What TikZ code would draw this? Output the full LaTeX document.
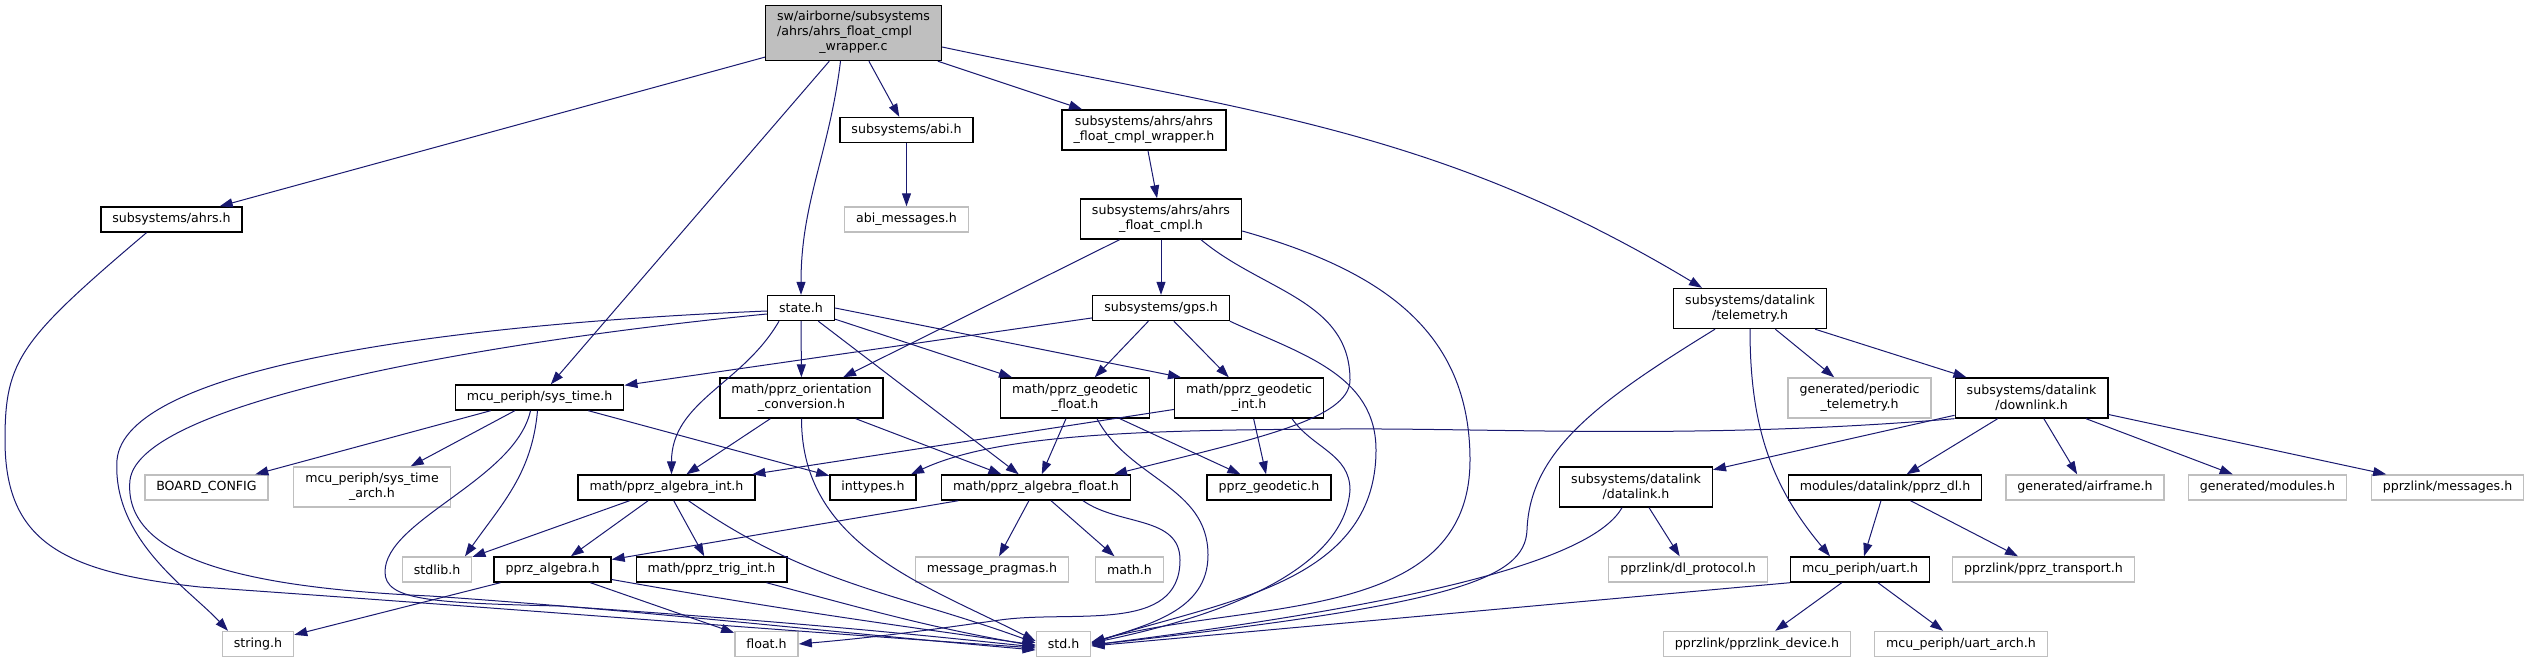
\documentclass[tikz,border=0pt]{standalone}
\usepackage{fontspec}
\setmainfont{DejaVu Sans}
\usepackage{tikz}
\usetikzlibrary{arrows.meta}

\definecolor{edgeblue}{HTML}{191970}
\definecolor{extgray}{HTML}{BFBFBF}
\newcommand{\dxfont}{\fontsize{12.6}{15}\selectfont}

\begin{document}
\begin{tikzpicture}[x=1pt, y=-1pt,
  file/.style={draw=black, line width=1.4pt, fill=white, font=\dxfont, align=center,
    inner xsep=11.5pt, inner ysep=0pt, minimum height=25pt},
  twoline/.style={minimum height=40pt},
  sysfile/.style={file, draw=extgray},
  dep/.style={draw=edgeblue, line width=1pt, -{Triangle[length=13pt, width=9pt]}}]

  \useasboundingbox (0,0) rectangle (2530,663);

  % source file
  \node[file, fill=extgray, minimum height=55pt] (root) at (853.5,33)
    {\begin{tabular}{@{}l@{}}sw/airborne/subsystems\\/ahrs/ahrs\_float\_cmpl\\\multicolumn{1}{@{}c@{}}{\_wrapper.c}\end{tabular}};

  % first rows
  \node[file] (ahrs) at (171.5,219.5) {subsystems/ahrs.h};
  \node[file] (abi) at (906.5,130) {subsystems/abi.h};
  \node[sysfile] (abimsg) at (906.5,219.5) {abi\_messages.h};
  \node[file, twoline] (wrapper) at (1144,130) {subsystems/ahrs/ahrs\\\_float\_cmpl\_wrapper.h};
  \node[file, twoline] (cmpl) at (1161,219) {subsystems/ahrs/ahrs\\\_float\_cmpl.h};
  \node[file] (state) at (801,308) {state.h};
  \node[file] (gps) at (1161,308) {subsystems/gps.h};
  \node[file, twoline] (telemetry) at (1750,308.5) {subsystems/datalink\\/telemetry.h};

  % middle row
  \node[file] (systime) at (539.5,397.5) {mcu\_periph/sys\_time.h};
  \node[file, twoline] (orient) at (801.5,398) {math/pprz\_orientation\\\_conversion.h};
  \node[file, twoline] (geofloat) at (1075,398) {math/pprz\_geodetic\\\_float.h};
  \node[file, twoline] (geoint) at (1249,398) {math/pprz\_geodetic\\\_int.h};
  \node[sysfile, twoline] (periodic) at (1859.5,398) {generated/periodic\\\_telemetry.h};
  \node[file, twoline] (downlink) at (2031.5,398) {subsystems/datalink\\/downlink.h};

  \node[sysfile] (board) at (206.5,487.5) {BOARD\_CONFIG};
  \node[sysfile, twoline] (systimearch) at (372,487) {mcu\_periph/sys\_time\\\_arch.h};
  \node[file] (algint) at (666.5,487.5) {math/pprz\_algebra\_int.h};
  \node[file] (inttypes) at (873,487.5) {inttypes.h};
  \node[file] (algfloat) at (1036,487.5) {math/pprz\_algebra\_float.h};
  \node[file] (geodetic) at (1269,487.5) {pprz\_geodetic.h};
  \node[file, twoline] (datalink) at (1636,487) {subsystems/datalink\\/datalink.h};
  \node[file] (ppzdl) at (1885,487.5) {modules/datalink/pprz\_dl.h};
  \node[sysfile] (airframe) at (2085,487.5) {generated/airframe.h};
  \node[sysfile] (modules) at (2267.5,487.5) {generated/modules.h};
  \node[sysfile] (messages) at (2447.5,487.5) {pprzlink/messages.h};

  % lower rows
  \node[sysfile] (stdlib) at (437,569.5) {stdlib.h};
  \node[file] (pprzalg) at (552.5,569.5) {pprz\_algebra.h};
  \node[file] (trigint) at (711.5,569.5) {math/pprz\_trig\_int.h};
  \node[sysfile] (msgprag) at (992,569.5) {message\_pragmas.h};
  \node[sysfile] (mathh) at (1129.5,569.5) {math.h};
  \node[sysfile] (dlproto) at (1688,569.5) {pprzlink/dl\_protocol.h};
  \node[file] (uart) at (1860,569.5) {mcu\_periph/uart.h};
  \node[sysfile] (transport) at (2043.5,569.5) {pprzlink/pprz\_transport.h};

  \node[sysfile] (stringh) at (258,644) {string.h};
  \node[sysfile] (floath) at (766.5,644) {float.h};
  \node[sysfile] (stdh) at (1063.5,644) {std.h};
  \node[sysfile] (device) at (1757,644) {pprzlink/pprzlink\_device.h};
  \node[sysfile] (uartarch) at (1961,644) {mcu\_periph/uart\_arch.h};

  % includes of the source file
  \draw[dep] (root) -- (ahrs);
  \draw[dep] (root) -- (systime);
  \draw[dep] ([xshift=-13pt]root.south) to[out=-97, in=90] (state.north);
  \draw[dep] (root) -- (abi);
  \draw[dep] (root) -- (wrapper);
  \draw[dep] ([yshift=-14pt]root.east) to[out=-12, in=149] ([xshift=-48pt]telemetry.north);

  % ahrs, abi, wrapper
  \draw[dep] ([xshift=-25pt]ahrs.south) .. controls (20,340) and (5,360) .. (5,440)
    .. controls (5,540) and (60,572) .. (200,587) to[out=-4, in=176] ([yshift=-4pt]stdh.west);
  \draw[dep] (abi) -- (abimsg);
  \draw[dep] (wrapper) -- (cmpl);

  % ahrs_float_cmpl.h
  \draw[dep] (cmpl) -- (gps);
  \draw[dep] (cmpl) -- (orient);
  \draw[dep] ([xshift=40pt]cmpl.south) to[out=-40, in=90] (1350,380)
    .. controls (1350,420) and (1250,440) .. ([xshift=78pt]algfloat.north);
  \draw[dep] ([yshift=-12pt]cmpl.east) .. controls (1380,270) and (1470,330) .. (1470,460)
    to[out=-90, in=15] ([yshift=2pt]stdh.east);

  % state.h
  \draw[dep] ([yshift=-3pt]state.west) .. controls (430,325) and (125,370) .. (117,460)
    .. controls (112,540) and (190,590) .. ([xshift=-30pt]stringh.north);
  \draw[dep] ([yshift=-6pt]state.west) .. controls (500,340) and (140,400) .. (130,480)
    .. controls (122,560) and (250,588) .. (430,596) to[out=-4, in=175] ([yshift=-6pt]stdh.west);
  \draw[dep] ([xshift=-22pt]state.south) to[out=-120, in=90] ([xshift=5pt]algint.north);
  \draw[dep] (state) -- (orient);
  \draw[dep] (state) -- (algfloat);
  \draw[dep] (state) -- (geofloat);
  \draw[dep] (state.east) -- ([xshift=-68pt]geoint.north);

  % gps.h
  \draw[dep] (gps) -- (systime);
  \draw[dep] (gps) -- (geofloat);
  \draw[dep] (gps) -- (geoint);
  \draw[dep] (gps.south east) to[out=-25, in=90] (1376,450) to[out=-90, in=18] ([yshift=1pt]stdh.east);

  % sys_time.h
  \draw[dep] (systime) -- (board);
  \draw[dep] (systime) -- (systimearch);
  \draw[dep] ([xshift=-2pt]systime.south) to[out=-95, in=55] ([xshift=28pt]stdlib.north);
  \draw[dep] ([xshift=-9pt]systime.south) .. controls (515,480) and (385,520) .. (385,572)
    .. controls (385,600) and (430,603) .. (560,606) to[out=-4, in=174] ([yshift=-3pt]stdh.west);
  \draw[dep] (systime) -- (inttypes);

  % orientation conversion
  \draw[dep] (orient) -- (algint);
  \draw[dep] (orient) -- (algfloat);
  \draw[dep] (orient.south) to[out=-90, in=153] ([yshift=3pt]stdh.west);

  % geodetic float / int
  \draw[dep] (geofloat) -- (algfloat);
  \draw[dep] (geofloat) -- (geodetic);
  \draw[dep] ([xshift=22pt]geofloat.south) to[out=-62, in=90] (1208,555) to[out=-90, in=20] (stdh.east);
  \draw[dep] (geoint) -- (algint);
  \draw[dep] (geoint) -- (geodetic);
  \draw[dep] ([xshift=43pt]geoint.south) to[out=-55, in=90] (1350,490)
    .. controls (1345,560) and (1250,610) .. ([yshift=1pt]stdh.east);

  % algebra int / float
  \draw[dep] (algint) -- (stdlib);
  \draw[dep] (algint) -- (pprzalg);
  \draw[dep] (algint) -- (trigint);
  \draw[dep] ([xshift=22pt]algint.south) to[out=-35, in=160] ([yshift=1pt]stdh.west);
  \draw[dep] (algfloat) -- (pprzalg);
  \draw[dep] (algfloat) -- (msgprag);
  \draw[dep] (algfloat) -- (mathh);
  \draw[dep] ([xshift=47pt]algfloat.south) to[out=-35, in=90] (1180,560) to[out=-90, in=8] (1000,620)
    to[out=188, in=5] (floath.east);

  % pprz_algebra, trig
  \draw[dep] (pprzalg) -- (stringh);
  \draw[dep] (pprzalg) -- (floath);
  \draw[dep] ([yshift=-10pt]pprzalg.east) to[out=-10, in=172] ([yshift=-1pt]stdh.west);
  \draw[dep] ([xshift=55pt]trigint.south) to[out=-15, in=170] ([yshift=-2pt]stdh.west);

  % telemetry
  \draw[dep] ([xshift=-35pt]telemetry.south) .. controls (1600,400) and (1530,450) .. (1527,530)
    .. controls (1525,580) and (1450,605) .. ([yshift=-1pt]stdh.east);
  \draw[dep] (telemetry.south) to[out=-90, in=130] ([xshift=-30pt]uart.north);
  \draw[dep] (telemetry) -- (periodic);
  \draw[dep] (telemetry) -- (downlink);

  % downlink
  \draw[dep] (downlink.south west) .. controls (1700,440) and (1500,428) .. (1340,429)
    .. controls (1150,430) and (1000,433) .. ([xshift=38pt]inttypes.north);
  \draw[dep] (downlink) -- (datalink);
  \draw[dep] (downlink) -- (ppzdl);
  \draw[dep] (downlink) -- (airframe);
  \draw[dep] (downlink) -- (modules);
  \draw[dep] (downlink) -- (messages);

  % datalink, pprz_dl, uart
  \draw[dep] (datalink) -- (dlproto);
  \draw[dep] ([xshift=-14pt]datalink.south) .. controls (1595,555) and (1450,600) .. ([yshift=-1pt]stdh.east);
  \draw[dep] (ppzdl) -- (uart);
  \draw[dep] (ppzdl) -- (transport);
  \draw[dep] (uart.south west) -- ([yshift=-2pt]stdh.east);
  \draw[dep] (uart) -- (device);
  \draw[dep] (uart) -- (uartarch);
\end{tikzpicture}
\end{document}
